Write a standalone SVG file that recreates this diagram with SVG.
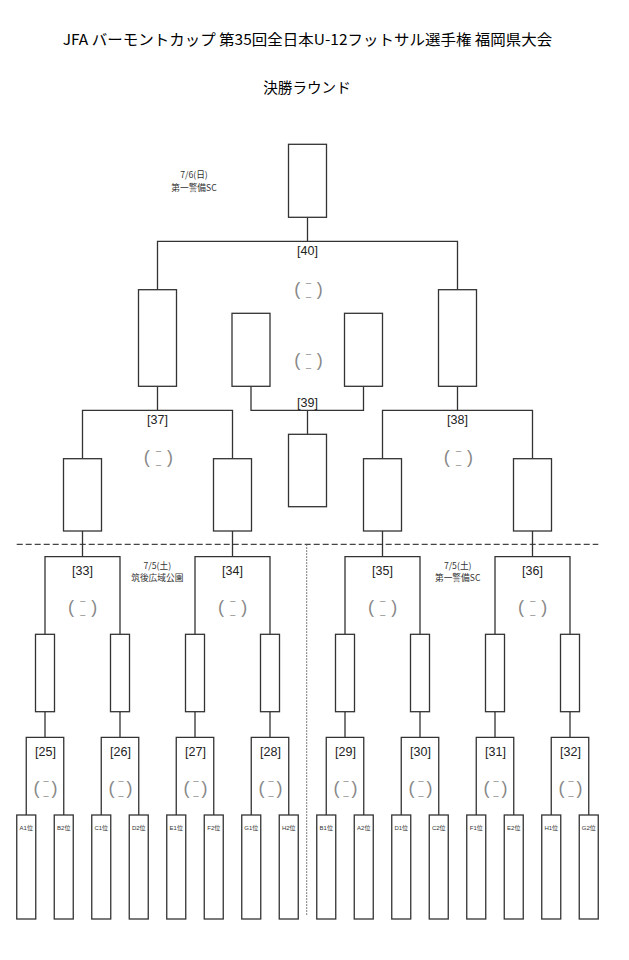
<svg xmlns="http://www.w3.org/2000/svg" width="629" height="960" viewBox="0 0 629 960">
<style>
.ln{fill:none;stroke:#333;stroke-width:1.3}
.bx{fill:#fff;stroke:#333;stroke-width:1.3}
.ttl{font-family:"Noto Sans CJK JP","Liberation Sans",sans-serif;fill:#000}
.lb{font-family:"Liberation Sans","Noto Sans CJK JP",sans-serif;font-size:12.5px;fill:#222;text-anchor:middle}
.dt{font-family:"Noto Sans CJK JP","Liberation Sans",sans-serif;font-size:8.7px;fill:#333;text-anchor:middle}
.lf{font-family:"Liberation Sans","Noto Sans CJK JP",sans-serif;font-size:6px;fill:#333;text-anchor:middle}
.pr{font-family:"Liberation Sans",sans-serif;font-size:18px;fill:#888;text-anchor:middle}
.us{font-family:"Liberation Sans",sans-serif;font-size:9px;fill:#777;text-anchor:middle}
.dash{fill:none;stroke:#444;stroke-width:1.2;stroke-dasharray:6 3}
.dot{fill:none;stroke:#555;stroke-width:1;stroke-dasharray:1.5 1.5}
</style>
<rect width="629" height="960" fill="#fff"/>
<g id="title">
<text class="ttl" x="62.7" y="45" font-size="15" textLength="489.6" lengthAdjust="spacingAndGlyphs">JFA バーモントカップ 第35回全日本U-12フットサル選手権 福岡県大会</text>
<text class="ttl" x="263.3" y="93" font-size="14.5" textLength="87.4" lengthAdjust="spacingAndGlyphs">決勝ラウンド</text>
</g>
<g id="venues">
<text class="dt" x="194" y="178">7/6(日)</text>
<text class="dt" x="194" y="190.8">第一警備SC</text>
<text class="dt" x="157.3" y="568.6">7/5(土)</text>
<text class="dt" x="157.3" y="581.4">筑後広域公園</text>
<text class="dt" x="457.7" y="568.6">7/5(土)</text>
<text class="dt" x="457.7" y="581.4">第一警備SC</text>
</g>
<g id="separators">
<path class="dash" d="M16.7 544.3H598.3"/>
<path class="dot" d="M306.7 544.3V916"/>
</g>
<g id="connectors">
<path class="ln" d="M157.5 289.7V241.3H457.5V289.7M307.5 241.3V217.3"/>
<path class="ln" d="M251 386.3V410.3H363.5V386.3M307.5 410.3V434.3"/>
<path class="ln" d="M82.5 458.7V410.3H232.5V458.7M157.5 410.3V386.3"/>
<path class="ln" d="M382.5 458.7V410.3H532.5V458.7M457.5 410.3V386.3"/>
<path class="ln" d="M45 634.3V556.7H120V634.3M82.5 556.7V531"/>
<path class="ln" d="M195 634.3V556.7H270V634.3M232.5 556.7V531"/>
<path class="ln" d="M345 634.3V556.7H420V634.3M382.5 556.7V531"/>
<path class="ln" d="M495 634.3V556.7H570V634.3M532.5 556.7V531"/>
<path class="ln" d="M26.25 815V737.3H63.75V815M45 737.3V711.7"/>
<path class="ln" d="M101.25 815V737.3H138.75V815M120 737.3V711.7"/>
<path class="ln" d="M176.25 815V737.3H213.75V815M195 737.3V711.7"/>
<path class="ln" d="M251.25 815V737.3H288.75V815M270 737.3V711.7"/>
<path class="ln" d="M326.25 815V737.3H363.75V815M345 737.3V711.7"/>
<path class="ln" d="M401.25 815V737.3H438.75V815M420 737.3V711.7"/>
<path class="ln" d="M476.25 815V737.3H513.75V815M495 737.3V711.7"/>
<path class="ln" d="M551.25 815V737.3H588.75V815M570 737.3V711.7"/>
</g>
<g id="final"><rect class="bx" x="288.5" y="144.3" width="38" height="73"/></g>
<g id="sf-left"><rect class="bx" x="138.5" y="289.7" width="38" height="96.6"/></g>
<g id="sf-right"><rect class="bx" x="438.5" y="289.7" width="38" height="96.6"/></g>
<g id="third-left"><rect class="bx" x="232" y="313.3" width="38" height="73"/></g>
<g id="third-right"><rect class="bx" x="344.5" y="313.3" width="38" height="73"/></g>
<g id="third-winner"><rect class="bx" x="288.5" y="434.3" width="38" height="72.4"/></g>
<g id="qf-1"><rect class="bx" x="63.5" y="458.7" width="38" height="72.3"/></g>
<g id="qf-2"><rect class="bx" x="213.5" y="458.7" width="38" height="72.3"/></g>
<g id="qf-3"><rect class="bx" x="363.5" y="458.7" width="38" height="72.3"/></g>
<g id="qf-4"><rect class="bx" x="513.5" y="458.7" width="38" height="72.3"/></g>
<g id="r2-1"><rect class="bx" x="35.5" y="634.3" width="19" height="77.4"/></g>
<g id="r2-2"><rect class="bx" x="110.5" y="634.3" width="19" height="77.4"/></g>
<g id="r2-3"><rect class="bx" x="185.5" y="634.3" width="19" height="77.4"/></g>
<g id="r2-4"><rect class="bx" x="260.5" y="634.3" width="19" height="77.4"/></g>
<g id="r2-5"><rect class="bx" x="335.5" y="634.3" width="19" height="77.4"/></g>
<g id="r2-6"><rect class="bx" x="410.5" y="634.3" width="19" height="77.4"/></g>
<g id="r2-7"><rect class="bx" x="485.5" y="634.3" width="19" height="77.4"/></g>
<g id="r2-8"><rect class="bx" x="560.5" y="634.3" width="19" height="77.4"/></g>
<g id="leaf-A1"><rect class="bx" x="16.75" y="815" width="19" height="104"/><text class="lf" x="26.25" y="830">A1位</text></g>
<g id="leaf-B2"><rect class="bx" x="54.25" y="815" width="19" height="104"/><text class="lf" x="63.75" y="830">B2位</text></g>
<g id="leaf-C1"><rect class="bx" x="91.75" y="815" width="19" height="104"/><text class="lf" x="101.25" y="830">C1位</text></g>
<g id="leaf-D2"><rect class="bx" x="129.25" y="815" width="19" height="104"/><text class="lf" x="138.75" y="830">D2位</text></g>
<g id="leaf-E1"><rect class="bx" x="166.75" y="815" width="19" height="104"/><text class="lf" x="176.25" y="830">E1位</text></g>
<g id="leaf-F2"><rect class="bx" x="204.25" y="815" width="19" height="104"/><text class="lf" x="213.75" y="830">F2位</text></g>
<g id="leaf-G1"><rect class="bx" x="241.75" y="815" width="19" height="104"/><text class="lf" x="251.25" y="830">G1位</text></g>
<g id="leaf-H2"><rect class="bx" x="279.25" y="815" width="19" height="104"/><text class="lf" x="288.75" y="830">H2位</text></g>
<g id="leaf-B1"><rect class="bx" x="316.75" y="815" width="19" height="104"/><text class="lf" x="326.25" y="830">B1位</text></g>
<g id="leaf-A2"><rect class="bx" x="354.25" y="815" width="19" height="104"/><text class="lf" x="363.75" y="830">A2位</text></g>
<g id="leaf-D1"><rect class="bx" x="391.75" y="815" width="19" height="104"/><text class="lf" x="401.25" y="830">D1位</text></g>
<g id="leaf-C2"><rect class="bx" x="429.25" y="815" width="19" height="104"/><text class="lf" x="438.75" y="830">C2位</text></g>
<g id="leaf-F1"><rect class="bx" x="466.75" y="815" width="19" height="104"/><text class="lf" x="476.25" y="830">F1位</text></g>
<g id="leaf-E2"><rect class="bx" x="504.25" y="815" width="19" height="104"/><text class="lf" x="513.75" y="830">E2位</text></g>
<g id="leaf-H1"><rect class="bx" x="541.75" y="815" width="19" height="104"/><text class="lf" x="551.25" y="830">H1位</text></g>
<g id="leaf-G2"><rect class="bx" x="579.25" y="815" width="19" height="104"/><text class="lf" x="588.75" y="830">G2位</text></g>
<g id="match-labels">
<text class="lb" x="307.5" y="254.5">[40]</text>
<text class="lb" x="307.5" y="407">[39]</text>
<text class="lb" x="157.5" y="423.5">[37]</text>
<text class="lb" x="457.5" y="423.5">[38]</text>
<text class="lb" x="82.5" y="575">[33]</text>
<text class="lb" x="232.5" y="575">[34]</text>
<text class="lb" x="382.5" y="575">[35]</text>
<text class="lb" x="532.5" y="575">[36]</text>
<text class="lb" x="45.5" y="755.5">[25]</text>
<text class="lb" x="120.5" y="755.5">[26]</text>
<text class="lb" x="195.5" y="755.5">[27]</text>
<text class="lb" x="270.5" y="755.5">[28]</text>
<text class="lb" x="345.5" y="755.5">[29]</text>
<text class="lb" x="420.5" y="755.5">[30]</text>
<text class="lb" x="495.5" y="755.5">[31]</text>
<text class="lb" x="570.5" y="755.5">[32]</text>
</g>
<g id="scores">
<text class="pr" x="297.2" y="294.8">(</text><text class="pr" x="319.8" y="294.8">)</text><text class="us" x="308.5" y="281.7">_</text><text class="us" x="308.5" y="295.7">_</text>
<text class="pr" x="297.2" y="366.2">(</text><text class="pr" x="319.8" y="366.2">)</text><text class="us" x="308.5" y="353.1">_</text><text class="us" x="308.5" y="367.1">_</text>
<text class="pr" x="146.8" y="463">(</text><text class="pr" x="170" y="463">)</text><text class="us" x="158.4" y="449.9">_</text><text class="us" x="158.4" y="463.9">_</text>
<text class="pr" x="446.8" y="463">(</text><text class="pr" x="470" y="463">)</text><text class="us" x="458.4" y="449.9">_</text><text class="us" x="458.4" y="463.9">_</text>
<text class="pr" x="71.1" y="612.8">(</text><text class="pr" x="94.3" y="612.8">)</text><text class="us" x="82.7" y="599.7">_</text><text class="us" x="82.7" y="613.7">_</text>
<text class="pr" x="221.1" y="612.8">(</text><text class="pr" x="244.3" y="612.8">)</text><text class="us" x="232.7" y="599.7">_</text><text class="us" x="232.7" y="613.7">_</text>
<text class="pr" x="371.1" y="612.8">(</text><text class="pr" x="394.3" y="612.8">)</text><text class="us" x="382.7" y="599.7">_</text><text class="us" x="382.7" y="613.7">_</text>
<text class="pr" x="521.1" y="612.8">(</text><text class="pr" x="544.3" y="612.8">)</text><text class="us" x="532.7" y="599.7">_</text><text class="us" x="532.7" y="613.7">_</text>
<text class="pr" x="36.6" y="793.5">(</text><text class="pr" x="54.4" y="793.5">)</text><text class="us" x="46" y="780.1">_</text><text class="us" x="46" y="795.1">_</text>
<text class="pr" x="111.6" y="793.5">(</text><text class="pr" x="129.4" y="793.5">)</text><text class="us" x="121" y="780.1">_</text><text class="us" x="121" y="795.1">_</text>
<text class="pr" x="186.6" y="793.5">(</text><text class="pr" x="204.4" y="793.5">)</text><text class="us" x="196" y="780.1">_</text><text class="us" x="196" y="795.1">_</text>
<text class="pr" x="261.6" y="793.5">(</text><text class="pr" x="279.4" y="793.5">)</text><text class="us" x="271" y="780.1">_</text><text class="us" x="271" y="795.1">_</text>
<text class="pr" x="336.6" y="793.5">(</text><text class="pr" x="354.4" y="793.5">)</text><text class="us" x="346" y="780.1">_</text><text class="us" x="346" y="795.1">_</text>
<text class="pr" x="411.6" y="793.5">(</text><text class="pr" x="429.4" y="793.5">)</text><text class="us" x="421" y="780.1">_</text><text class="us" x="421" y="795.1">_</text>
<text class="pr" x="486.6" y="793.5">(</text><text class="pr" x="504.4" y="793.5">)</text><text class="us" x="496" y="780.1">_</text><text class="us" x="496" y="795.1">_</text>
<text class="pr" x="561.6" y="793.5">(</text><text class="pr" x="579.4" y="793.5">)</text><text class="us" x="571" y="780.1">_</text><text class="us" x="571" y="795.1">_</text>
</g>
</svg>
